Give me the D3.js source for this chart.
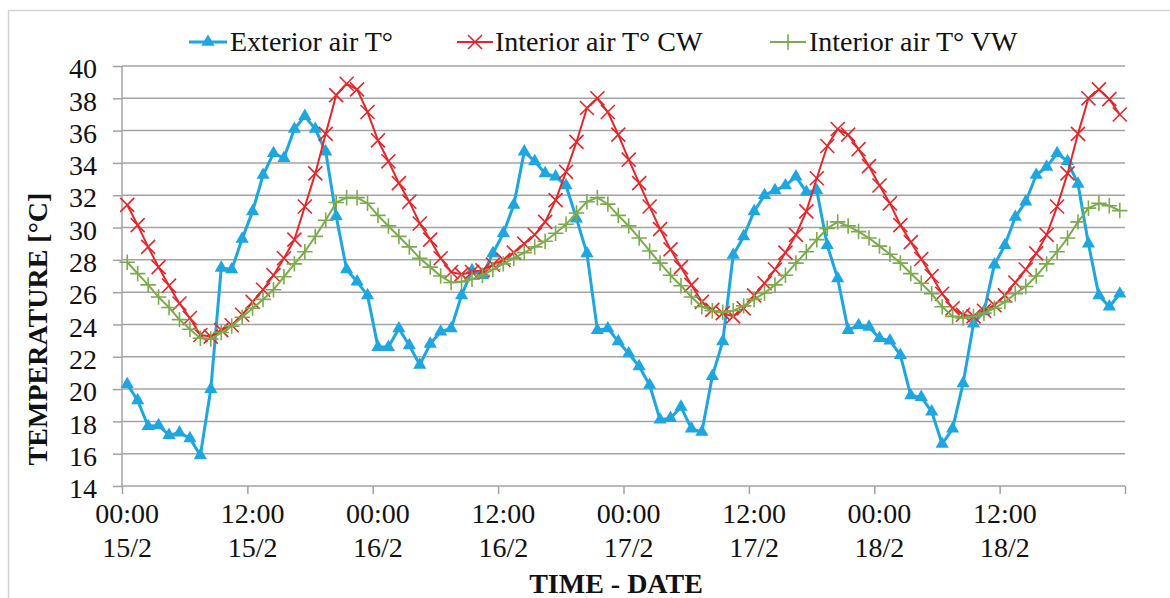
<!DOCTYPE html>
<html><head><meta charset="utf-8">
<script src="https://cdn.jsdelivr.net/npm/d3@7"></script>
<style>
html,body{margin:0;padding:0;background:#fff;}
svg{display:block;font-family:"Liberation Serif","Times New Roman",serif;}
</style></head>
<body><svg id="c" width="1170" height="598"></svg>
<script>
const seriesNames = ["Exterior air T°", "Interior air T° CW", "Interior air T° VW"];
const exterior = [20.3,19.3,17.7,17.75,17.15,17.3,16.95,15.9,20.0,27.5,27.4,29.3,31.0,33.25,34.6,34.3,36.1,36.9,36.1,34.7,30.7,27.4,26.65,25.8,22.6,22.6,23.75,22.7,21.5,22.8,23.55,23.75,
25.8,27.35,27.05,28.4,29.65,31.4,34.7,34.1,33.35,33.15,32.6,30.55,28.4,23.65,23.75,22.95,22.2,21.4,20.25,18.1,18.2,18.9,17.55,17.35,20.8,22.95,28.3,29.45,31.0,32.0,32.3,32.6,
33.15,32.2,32.3,28.9,26.85,23.65,23.95,23.85,23.15,23.0,22.1,19.6,19.5,18.6,16.6,17.55,20.35,24.05,24.8,27.7,28.9,30.65,31.6,33.25,33.75,34.6,34.1,32.7,29.0,25.8,25.1,25.9];
const interiorCW = [31.4,30.15,28.8,27.55,26.4,25.3,24.4,23.35,23.25,23.65,23.95,24.6,25.4,26.15,27.05,28.1,29.25,31.3,33.35,35.8,38.2,38.9,38.55,37.15,35.4,34.1,32.75,31.6,30.25,29.25,28.1,27.25,
27.1,27.25,27.35,27.7,28.0,28.45,29.0,29.55,30.35,31.7,33.45,35.3,37.4,38.0,37.15,35.75,34.2,32.75,31.3,29.9,28.65,27.55,26.45,25.4,24.9,24.7,24.5,25.0,25.8,26.55,27.4,28.45,
29.55,31.0,33.05,35.05,36.1,35.75,34.85,33.8,32.6,31.5,30.15,29.1,28.05,27.0,25.9,25.0,24.6,24.5,24.85,25.2,25.8,26.6,27.4,28.4,29.55,31.3,33.35,35.8,38.0,38.55,37.95,37.0];
const interiorVW = [27.85,27.15,26.45,25.7,25.05,24.3,23.7,23.15,23.1,23.5,23.9,24.45,25.0,25.55,26.15,26.95,27.75,28.5,29.45,30.45,31.55,31.85,31.85,31.5,30.75,30.1,29.45,28.8,28.1,27.55,27.0,26.6,
26.65,26.8,27.05,27.4,27.75,28.1,28.45,28.8,29.15,29.65,30.2,30.9,31.6,31.85,31.45,30.75,30.1,29.35,28.55,27.8,27.05,26.4,25.7,25.1,24.85,24.75,24.85,25.15,25.55,25.95,26.45,27.05,
27.8,28.5,29.25,29.95,30.35,30.1,29.75,29.35,28.85,28.35,27.8,27.15,26.55,25.9,25.1,24.5,24.4,24.5,24.7,25.0,25.4,25.9,26.35,27.0,27.75,28.5,29.35,30.35,31.2,31.5,31.35,31.05];
const xLabelTimes = ["00:00","12:00","00:00","12:00","00:00","12:00","00:00","12:00"];
const xLabelDates = ["15/2","15/2","16/2","16/2","17/2","17/2","18/2","18/2"];
const yTicks = [14,16,18,20,22,24,26,28,30,32,34,36,38,40];
const xTitle = "TIME - DATE";
const yTitle = "TEMPERATURE [°C]";

const colors = ["#1ea6e0", "#e6262b", "#7bab4b"];
const svg = d3.select("#c");
const L = 122, R = 1125, T = 66, B = 486;
const n = exterior.length;
const x = d3.scaleLinear().domain([0, n]).range([L, R]);
const y = d3.scaleLinear().domain([14, 40]).range([B, T]);

// outer chart border
svg.append("rect").attr("x", 8.5).attr("y", 10.5).attr("width", 1300).attr("height", 700)
  .attr("fill", "none").attr("stroke", "#d4d4d4").attr("stroke-width", 1.5);

// gridlines
svg.append("g").selectAll("line").data(yTicks.filter(v => v > 14)).join("line")
  .attr("x1", L).attr("x2", R).attr("y1", d => y(d)).attr("y2", d => y(d))
  .attr("stroke", "#a3a3a3").attr("stroke-width", 1.5);

// y axis
const ya = svg.append("g").attr("transform", `translate(${L},0)`)
  .call(d3.axisLeft(y).tickValues(yTicks).tickSize(9).tickPadding(16).tickFormat(d3.format("d")));
ya.select(".domain").attr("stroke", "#a3a3a3").attr("stroke-width", 1.5).attr("d", `M0,${T}V${B}`);
ya.selectAll(".tick line").attr("stroke", "#a3a3a3").attr("stroke-width", 1.5);
ya.selectAll(".tick text").attr("font-size", 28).attr("fill", "#111").attr("dy", "0.42em")
  .attr("font-family", "Liberation Serif");

// x axis (category ticks every 12 points)
const xa = svg.append("g").attr("transform", `translate(0,${B})`)
  .call(d3.axisBottom(x).tickValues(d3.range(0, n + 1, 12)).tickSize(8).tickFormat(""));
xa.select(".domain").attr("stroke", "#a3a3a3").attr("stroke-width", 1.5).attr("d", `M${L},0H${R}`);
xa.selectAll(".tick line").attr("stroke", "#a3a3a3").attr("stroke-width", 1.5);

const lab = svg.append("g").attr("font-size", 28).attr("fill", "#111").attr("text-anchor", "middle");
xLabelTimes.forEach((t, k) => {
  const cx = x(k * 12 + 0.5);
  lab.append("text").attr("x", cx).attr("y", 523).text(t);
  lab.append("text").attr("x", cx).attr("y", 557).text(xLabelDates[k]);
});

// axis titles
svg.append("text").attr("x", 616).attr("y", 593).attr("text-anchor", "middle")
  .attr("font-size", 28).attr("font-weight", "bold").attr("fill", "#111").text(xTitle);
svg.append("text").attr("transform", "translate(47,329) rotate(-90)").attr("text-anchor", "middle")
  .attr("font-size", 28).attr("font-weight", "bold").attr("fill", "#111").text(yTitle);

// series
const line = d3.line().x((d, i) => x(i + 0.5)).y(d => y(d));
const data = [exterior, interiorCW, interiorVW];
const widths = [3, 2, 2];
const symTri = d3.symbol().type(d3.symbolTriangle).size(75);
const symX = d3.symbol().type(d3.symbolX).size(130);
const symPlus = d3.symbol().type(d3.symbolPlus).size(80);

data.forEach((vals, s) => {
  const g = svg.append("g");
  g.append("path").datum(vals).attr("d", line).attr("fill", "none")
    .attr("stroke", colors[s]).attr("stroke-width", widths[s]).attr("stroke-linejoin", "round");
  const m = g.selectAll("path.m").data(vals).join("path").attr("class", "m")
    .attr("transform", (d, i) => `translate(${x(i + 0.5)},${y(d)})`);
  if (s === 0) m.attr("d", symTri).attr("fill", colors[0]);
  else if (s === 1) m.attr("d", symX).attr("fill", "none").attr("stroke", colors[1]).attr("stroke-width", 1.6);
  else m.attr("d", symPlus).attr("fill", "none").attr("stroke", colors[2]).attr("stroke-width", 1.6);
});

// legend
const legend = [
  {x1: 189, x2: 227, tx: 230},
  {x1: 457, x2: 493, tx: 495},
  {x1: 770, x2: 806, tx: 809}
];
legend.forEach((l, s) => {
  const g = svg.append("g");
  g.append("line").attr("x1", l.x1).attr("x2", l.x2).attr("y1", 42).attr("y2", 42)
    .attr("stroke", colors[s]).attr("stroke-width", widths[s]);
  const mx = (l.x1 + l.x2) / 2;
  const mk = g.append("path").attr("transform", `translate(${mx},42)`);
  if (s === 0) mk.attr("d", symTri).attr("fill", colors[0]);
  else if (s === 1) mk.attr("d", symX).attr("fill", "none").attr("stroke", colors[1]).attr("stroke-width", 1.6);
  else mk.attr("d", symPlus).attr("fill", "none").attr("stroke", colors[2]).attr("stroke-width", 1.6);
  g.append("text").attr("x", l.tx).attr("y", 51).attr("font-size", 28).attr("fill", "#111").text(seriesNames[s]);
});
</script></body></html>
